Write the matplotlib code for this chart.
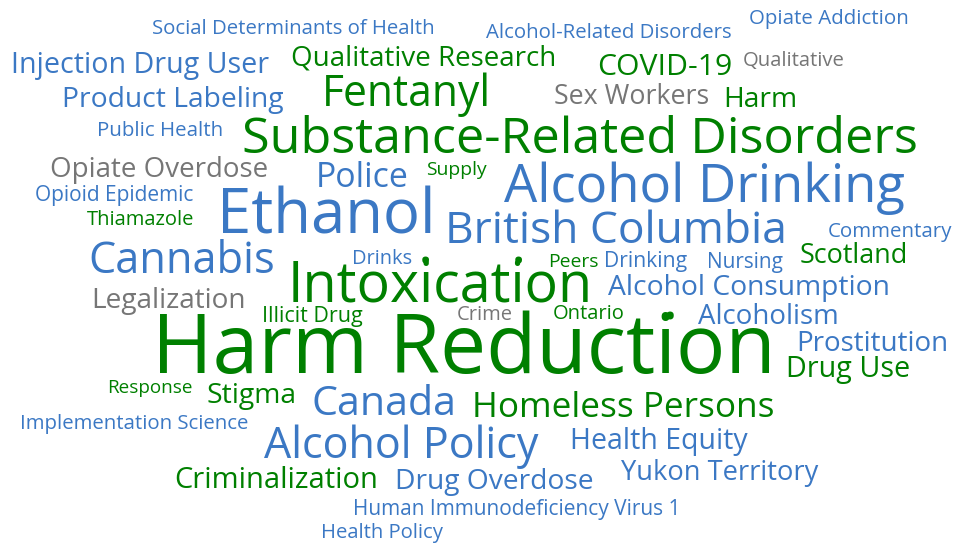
import matplotlib
matplotlib.use("Agg")
import matplotlib.pyplot as plt

# word cloud terms, their weights (font size in px) and colour group
terms = [
    "Social Determinants of Health", "Alcohol-Related Disorders", "Opiate Addiction",
    "Injection Drug User", "Qualitative Research", "COVID-19", "Qualitative",
    "Product Labeling", "Fentanyl", "Sex Workers", "Harm", "Public Health",
    "Substance-Related Disorders", "Opiate Overdose", "Police", "Supply",
    "Alcohol Drinking", "Opioid Epidemic", "Thiamazole", "Ethanol",
    "British Columbia", "Commentary", "Cannabis", "Drinks", "Intoxication",
    "Peers", "Drinking", "Nursing", "Scotland", "Legalization",
    "Alcohol Consumption", "Illicit Drug", "Crime", "Ontario", "Alcoholism",
    "Harm Reduction", "Prostitution", "Drug Use", "Response", "Stigma", "Canada",
    "Homeless Persons", "Implementation Science", "Alcohol Policy",
    "Health Equity", "Yukon Territory", "Criminalization", "Drug Overdose",
    "Human Immunodeficiency Virus 1", "Health Policy", ".", ".", ".",
]
weights = [
    20.4, 20.4, 20.5, 28.6, 27.8, 30.1, 20.3, 28.2, 42.6, 26.8, 28.2, 20.5,
    50.4, 27.8, 33.9, 19.4, 52.6, 20.9, 20.1, 61.6, 44.4, 20.5, 43.3, 20.0,
    55.6, 19.3, 21.1, 20.8, 27.0, 28.0, 28.3, 21.5, 20.2, 20.2, 27.6, 82.1,
    27.8, 28.7, 18.9, 28.4, 41.3, 35.1, 20.4, 43.2, 28.5, 27.2, 29.1, 28.1,
    20.9, 20.3, 58.0, 58.0, 62.0,
]
groups = [
    "b", "b", "b", "b", "g", "g", "k", "b", "g", "k", "g", "b",
    "g", "k", "b", "g", "b", "b", "g", "b", "b", "b", "b", "b",
    "g", "g", "b", "b", "g", "k", "b", "g", "k", "g", "b", "g",
    "b", "g", "g", "g", "b", "g", "b", "b", "b", "b", "g", "b",
    "b", "b", "g", "g", "g",
]

# layout: word centre x and baseline y in canvas pixels
pos_x = [
    293, 609, 829, 140, 424, 665, 794, 173, 406, 632, 760, 160,
    580, 159, 362, 456, 704, 114, 141, 326, 616, 890, 182, 382,
    440, 573, 646, 745, 854, 169, 749, 312, 485, 589, 768, 464,
    872, 848, 150, 252, 384, 623, 134, 401, 659, 720, 276, 494,
    517, 382, 425, 518, 670,
]
pos_y = [
    34, 38, 24, 73, 65, 75, 66, 107, 106, 104, 107, 136,
    153, 177, 187, 175, 202, 201, 225, 233, 243, 237, 273, 264,
    302, 267, 267, 268, 263, 308, 295, 322, 320, 319, 324, 373,
    351, 377, 393, 403, 415, 417, 429, 458, 449, 480, 488, 489,
    515, 538, 263, 263, 320,
]

colors = {"b": "#3b78c4", "g": "#008000", "k": "#767676"}

fig = plt.figure(figsize=(9.61, 5.45), dpi=100)
ax = fig.add_axes([0, 0, 1, 1])
ax.set_xlim(0, 961)
ax.set_ylim(545, 0)
ax.axis("off")

for term, w, g, x, y in zip(terms, weights, groups, pos_x, pos_y):
    ax.text(x, y, term, color=colors[g], fontsize=w * 0.72, family="Open Sans",
            ha="center", va="baseline")

fig.savefig("out.png", dpi=100)
